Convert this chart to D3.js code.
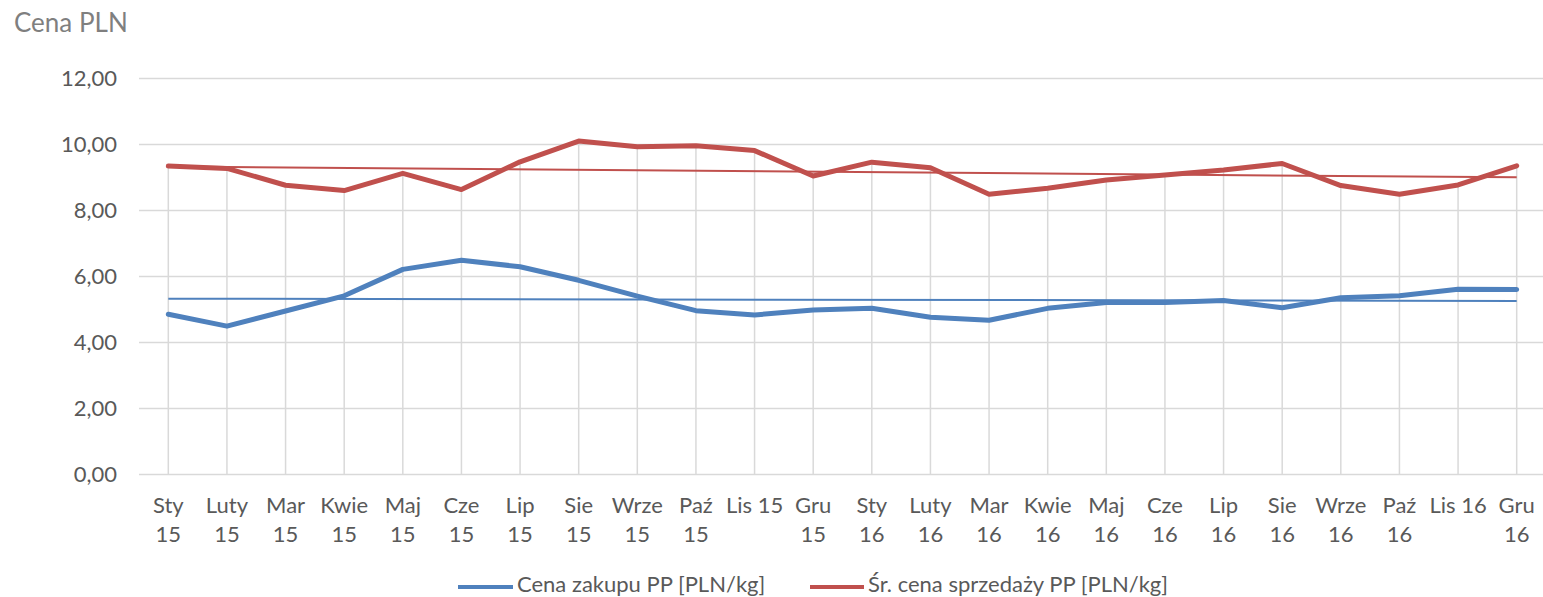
<!DOCTYPE html>
<html>
<head>
<meta charset="utf-8">
<script src="https://cdn.jsdelivr.net/npm/d3@7"></script>
<style>
  body { margin: 0; background: #fff; overflow: hidden; }
  text { font-family: Lato, "Open Sans", sans-serif; }
</style>
</head>
<body>
<script>
// categories (two-line labels, split on "|")
const months = ["Sty|15", "Luty|15", "Mar|15", "Kwie|15", "Maj|15", "Cze|15", "Lip|15", "Sie|15",
  "Wrze|15", "Paź|15", "Lis 15", "Gru|15", "Sty|16", "Luty|16", "Mar|16", "Kwie|16", "Maj|16",
  "Cze|16", "Lip|16", "Sie|16", "Wrze|16", "Paź|16", "Lis 16", "Gru|16"];

// Cena zakupu PP [PLN/kg]
const purchasePrice = [4.84, 4.48, 4.94, 5.40, 6.20, 6.48, 6.28, 5.87, 5.39, 4.95, 4.82, 4.97,
  5.02, 4.75, 4.66, 5.02, 5.20, 5.20, 5.26, 5.04, 5.34, 5.40, 5.60, 5.59];

// Śr. cena sprzedaży PP [PLN/kg]
const salePrice = [9.33, 9.26, 8.75, 8.59, 9.11, 8.62, 9.46, 10.09, 9.92, 9.95, 9.80, 9.03,
  9.45, 9.28, 8.48, 8.66, 8.91, 9.06, 9.21, 9.41, 8.74, 8.48, 8.76, 9.34];

const yTicks = [0, 2, 4, 6, 8, 10, 12];
const seriesNames = ["Cena zakupu PP [PLN/kg]", "Śr. cena sprzedaży PP [PLN/kg]"];
const seriesColors = ["#4f81bd", "#c0504d"];

const W = 1543, H = 597;
// plot area runs a bit past the right edge of the picture, as in the original
const plot = { left: 139, right: 1546, top: 78, bottom: 474 };

const svg = d3.select("body").append("svg")
  .attr("width", W)
  .attr("height", H);

const x = d3.scaleBand()
  .domain(months)
  .range([plot.left, plot.right]);
const xc = d => x(d) + x.bandwidth() / 2;

const y = d3.scaleLinear()
  .domain([0, 12])
  .range([plot.bottom, plot.top]);

// axis title
svg.append("text")
  .attr("x", 14)
  .attr("y", 32)
  .attr("fill", "#7f7f7f")
  .attr("font-size", 26)
  .text("Cena PLN");

// horizontal grid + y labels
const yAxis = d3.axisLeft(y)
  .tickValues(yTicks)
  .tickSize(-(plot.right - plot.left))
  .tickPadding(22)
  .tickFormat(d => d3.format(".2f")(d).replace(".", ","));

svg.append("g")
  .attr("transform", `translate(${plot.left},0)`)
  .call(yAxis)
  .call(g => g.select(".domain").remove())
  .call(g => g.selectAll(".tick line").attr("stroke", "#d9d9d9").attr("stroke-width", 1.5))
  .call(g => g.selectAll(".tick text")
    .attr("fill", "#595959")
    .attr("font-size", 22)
    .attr("font-family", "Lato, sans-serif"));

// drop lines from the upper series down to the axis
svg.append("g")
  .selectAll("line")
  .data(months)
  .join("line")
  .attr("x1", d => xc(d))
  .attr("x2", d => xc(d))
  .attr("y1", (d, i) => y(Math.max(salePrice[i], purchasePrice[i])))
  .attr("y2", y(0))
  .attr("stroke", "#d9d9d9")
  .attr("stroke-width", 1.5);

// x labels
const xLab = svg.append("g")
  .selectAll("text")
  .data(months)
  .join("text")
  .attr("text-anchor", "middle")
  .attr("fill", "#595959")
  .attr("font-size", 22)
  .attr("x", d => xc(d))
  .attr("y", 513);
xLab.selectAll("tspan")
  .data(d => d.split("|"))
  .join("tspan")
  .attr("x", function () { return d3.select(this.parentNode).attr("x"); })
  .attr("dy", (d, i) => i === 0 ? 0 : 29)
  .text(d => d);

// linear trend (least squares), as in the original chart
function trend(vals) {
  const n = vals.length;
  const xs = d3.range(n);
  const mx = d3.mean(xs), my = d3.mean(vals);
  const b = d3.sum(xs, i => (i - mx) * (vals[i] - my)) / d3.sum(xs, i => (i - mx) ** 2);
  const a = my - b * mx;
  return [[0, a], [n - 1, a + b * (n - 1)]];
}

const line = d3.line()
  .x((d, i) => xc(months[i]))
  .y(d => y(d));

const trendLine = d3.line()
  .x(d => xc(months[d[0]]))
  .y(d => y(d[1]));

[purchasePrice, salePrice].forEach((vals, k) => {
  svg.append("path")
    .datum(trend(vals))
    .attr("d", trendLine)
    .attr("fill", "none")
    .attr("stroke", seriesColors[k])
    .attr("stroke-width", 2);
  svg.append("path")
    .datum(vals)
    .attr("d", line)
    .attr("fill", "none")
    .attr("stroke", seriesColors[k])
    .attr("stroke-width", 5)
    .attr("stroke-linejoin", "round")
    .attr("stroke-linecap", "round");
});

// legend
const legendPos = [{ x: 458, w: 55 }, { x: 810, w: 54 }];
const legend = svg.append("g")
  .selectAll("g")
  .data(seriesNames)
  .join("g")
  .attr("transform", (d, i) => `translate(${legendPos[i].x},587)`);
legend.append("line")
  .attr("x1", 0)
  .attr("x2", (d, i) => legendPos[i].w)
  .attr("stroke", (d, i) => seriesColors[i])
  .attr("stroke-width", 4);
legend.append("text")
  .attr("x", (d, i) => legendPos[i].w + 4)
  .attr("y", 5)
  .attr("fill", "#595959")
  .attr("font-size", 22)
  .text(d => d);
</script>
</body>
</html>
